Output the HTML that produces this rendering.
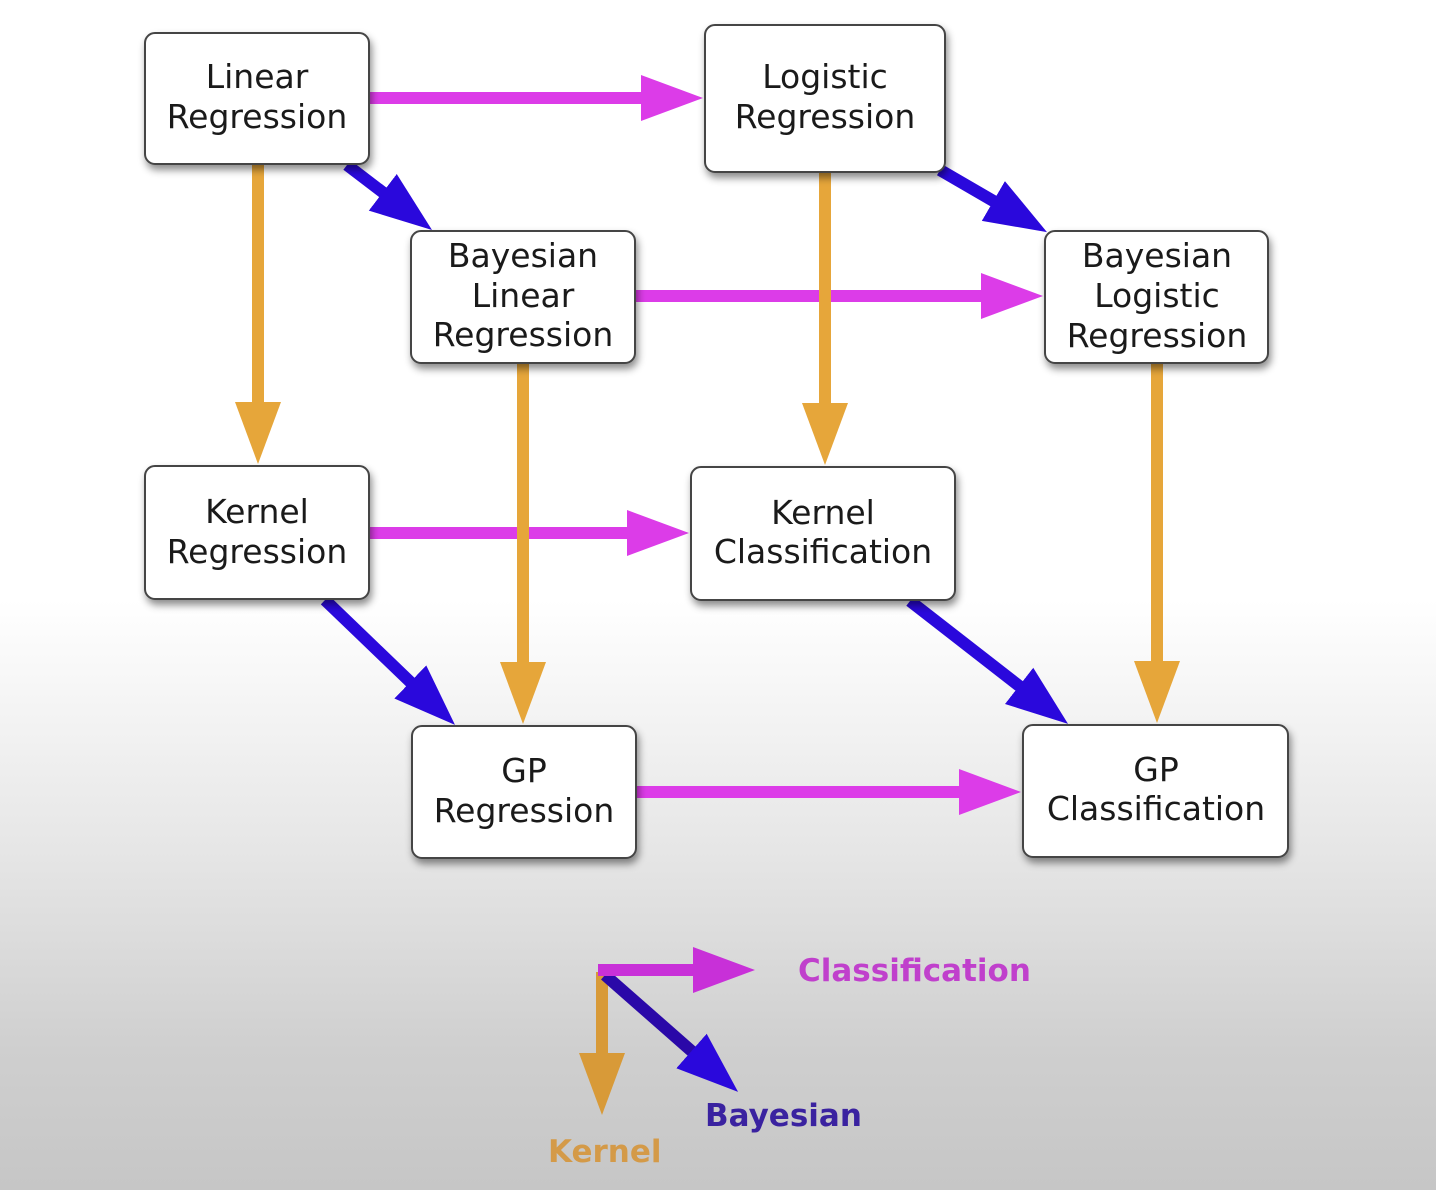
<!DOCTYPE html>
<html><head><meta charset="utf-8">
<style>
html,body{margin:0;padding:0;}
body{width:1436px;height:1190px;overflow:hidden;background:linear-gradient(to bottom,#ffffff 0px,#ffffff 600px,#e6e6e6 850px,#cfcfcf 1050px,#c6c6c6 1190px);}
svg{display:block;}
text{font-family:"DejaVu Sans","Liberation Sans",sans-serif;}
</style></head><body>
<svg width="1436" height="1190" viewBox="0 0 1436 1190" xmlns="http://www.w3.org/2000/svg">
<defs>
<filter id="sh" x="-20%" y="-20%" width="140%" height="150%"><feDropShadow dx="2" dy="5" stdDeviation="4" flood-color="#000" flood-opacity="0.45"/></filter>
<marker id="m" markerUnits="userSpaceOnUse" markerWidth="64" markerHeight="50" refX="10" refY="25" orient="auto"><polygon points="0,2 62,25 0,48" fill="#dc3ce8"/></marker>
<marker id="b" markerUnits="userSpaceOnUse" markerWidth="64" markerHeight="50" refX="10" refY="25" orient="auto"><polygon points="0,2 62,25 0,48" fill="#2a08dc"/></marker>
<marker id="o" markerUnits="userSpaceOnUse" markerWidth="64" markerHeight="50" refX="10" refY="25" orient="auto"><polygon points="0,2 62,25 0,48" fill="#e6a63a"/></marker>
<marker id="o2" markerUnits="userSpaceOnUse" markerWidth="64" markerHeight="50" refX="10" refY="25" orient="auto"><polygon points="0,2 62,25 0,48" fill="#d89a38"/></marker>
<marker id="m2" markerUnits="userSpaceOnUse" markerWidth="64" markerHeight="50" refX="10" refY="25" orient="auto"><polygon points="0,2 62,25 0,48" fill="#c830d8"/></marker>
</defs>
<g stroke-width="12" fill="none">
<line x1="369" y1="98" x2="651" y2="98" stroke="#dc3ce8" marker-end="url(#m)"/>
<line x1="635" y1="296" x2="991" y2="296" stroke="#dc3ce8" marker-end="url(#m)"/>
<line x1="369" y1="533" x2="637" y2="533" stroke="#dc3ce8" marker-end="url(#m)"/>
<line x1="636" y1="792" x2="969" y2="792" stroke="#dc3ce8" marker-end="url(#m)"/>
<line x1="258" y1="164" x2="258" y2="412" stroke="#e6a63a" marker-end="url(#o)"/>
<line x1="825" y1="172" x2="825" y2="413" stroke="#e6a63a" marker-end="url(#o)"/>
<line x1="523" y1="363" x2="523" y2="672" stroke="#e6a63a" marker-end="url(#o)"/>
<line x1="1157" y1="363" x2="1157" y2="671" stroke="#e6a63a" marker-end="url(#o)"/>
<line x1="347" y1="165" x2="390.7" y2="198.4" stroke="#2a08dc" marker-end="url(#b)"/>
<line x1="940" y1="170" x2="1002" y2="206" stroke="#2a08dc" marker-end="url(#b)"/>
<line x1="325" y1="600" x2="417.5" y2="688.9" stroke="#2a08dc" marker-end="url(#b)"/>
<line x1="910" y1="601" x2="1027" y2="692" stroke="#2a08dc" marker-end="url(#b)"/>
<line x1="602" y1="972" x2="602" y2="1063" stroke="#d89a38" marker-end="url(#o2)"/>
<line x1="605" y1="975" x2="699" y2="1057.6" stroke="#2a08a8" marker-end="url(#b)"/>
<line x1="598" y1="970" x2="703" y2="970" stroke="#c830d8" marker-end="url(#m2)"/>
</g>
<g fill="#fff" stroke="#444" stroke-width="2" filter="url(#sh)">
<rect x="145" y="33" width="224" height="131" rx="10"/>
<rect x="705" y="25" width="240" height="147" rx="10"/>
<rect x="411" y="231" width="224" height="132" rx="10"/>
<rect x="1045" y="231" width="223" height="132" rx="10"/>
<rect x="145" y="466" width="224" height="133" rx="10"/>
<rect x="691" y="467" width="264" height="133" rx="10"/>
<rect x="412" y="726" width="224" height="132" rx="10"/>
<rect x="1023" y="725" width="265" height="132" rx="10"/>
</g>
<g fill="#1a1a1a" font-size="33" text-anchor="middle">
<text x="257" y="88">Linear</text><text x="257" y="128">Regression</text>
<text x="825" y="88">Logistic</text><text x="825" y="128">Regression</text>
<text x="523" y="267">Bayesian</text><text x="523" y="307">Linear</text><text x="523" y="346">Regression</text>
<text x="1157" y="267">Bayesian</text><text x="1157" y="307">Logistic</text><text x="1157" y="347">Regression</text>
<text x="257" y="523">Kernel</text><text x="257" y="563">Regression</text>
<text x="823" y="524">Kernel</text><text x="823" y="563">Classification</text>
<text x="524" y="782">GP</text><text x="524" y="822">Regression</text>
<text x="1156" y="781">GP</text><text x="1156" y="820">Classification</text>
</g>
<g font-size="31" font-weight="bold">
<text x="798" y="981" fill="#c040cc">Classification</text>
<text x="705" y="1126" fill="#3a22a0">Bayesian</text>
<text x="548" y="1162" fill="#d49a48">Kernel</text>
</g>
</svg>
</body></html>
